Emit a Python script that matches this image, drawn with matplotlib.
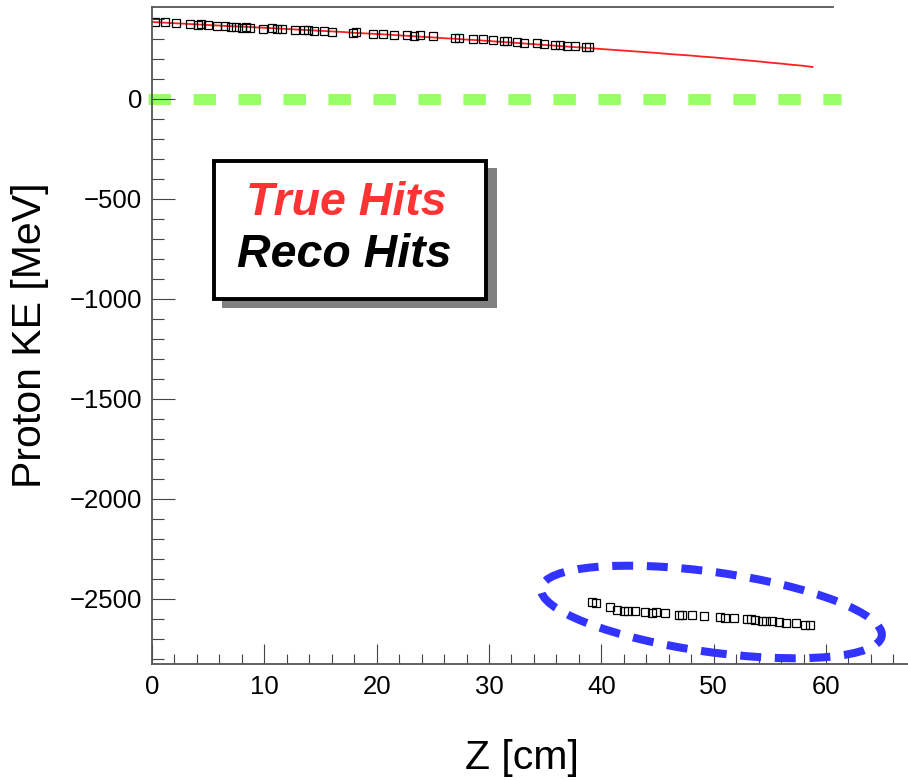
import numpy as np
import matplotlib
matplotlib.use("Agg")
import matplotlib.pyplot as plt
from matplotlib.patches import Ellipse, Rectangle
from matplotlib.transforms import IdentityTransform
from matplotlib.ticker import MultipleLocator

plt.rcParams['font.family'] = ['Liberation Sans', 'DejaVu Sans']

# --- donnees ---
z_true = [0, 1, 2, 3, 4, 5, 6, 7, 8, 9, 10, 11, 12, 13, 14, 15, 16, 17, 18, 19,
          20, 21, 22, 23, 24, 25, 26, 27, 28, 29, 30, 31, 32, 33, 34, 35, 36, 37,
          38, 39, 40, 41, 42, 43, 44, 45, 46, 47, 48, 49, 50, 51, 52, 53, 54, 55,
          56, 57, 58, 58.8]
ke_true = [385, 382, 379, 376, 373, 370, 367, 364, 362, 359, 356, 353, 350, 347,
           344, 341, 338, 335, 331, 328, 325, 322, 318, 315, 311, 308, 304, 301,
           297, 294, 290, 286, 282, 278, 274, 270, 266, 262, 258, 254, 250, 246,
           242, 238, 234, 230, 225, 221, 217, 212, 208, 203, 198, 193, 188, 182,
           177, 171, 166, 160]

z_reco = [0.3, 1.2, 2.1, 3.4, 4.1, 4.4, 5.0, 5.8, 6.5, 7.0, 7.5, 8.0, 8.4, 8.7,
          9.9, 10.7, 11.1, 11.6, 12.7, 13.5, 13.9, 14.4, 15.3, 16.0, 17.9, 18.2,
          19.7, 20.6, 21.5, 22.7, 23.3, 23.9, 25.0, 27.0, 27.3, 28.6, 29.5, 30.4,
          31.3, 31.6, 32.5, 33.1, 34.3, 34.9, 35.9, 36.3, 36.9, 37.7, 38.6, 38.9,
          39.2, 39.5, 40.8, 41.4, 42.0, 42.4, 43.0, 43.9, 44.5, 44.9, 45.7, 46.9,
          47.2, 48.1, 49.1, 50.6, 51.0, 51.8, 53.0, 53.3, 53.7, 54.3, 54.7, 55.2,
          55.8, 56.4, 57.3, 58.1, 58.6]
ke_reco = [384, 383, 378, 377, 372, 373, 369, 366, 364, 360, 362, 357, 358, 355,
           351, 353, 348, 350, 346, 343, 345, 339, 342, 337, 331, 333, 326, 324,
           322, 320, 316, 318, 313, 304, 307, 300, 298, 294, 292, 289, 287, 282,
           280, 276, 272, 270, 266, 263, 260, 258,
           -2517, -2520, -2538, -2556, -2558, -2560, -2562, -2565, -2568, -2567,
           -2570, -2578, -2582, -2580, -2586, -2592, -2596, -2597, -2602, -2600,
           -2606, -2608, -2612, -2610, -2617, -2620, -2622, -2632, -2628]

zero_x = [-0.35, 61.3]
zero_y = [0, 0]

fig = plt.figure(figsize=(9.08, 7.81), dpi=100)
ax = fig.add_axes([152/908, 1 - 664/781, 1 - 152/908, (664 - 7)/781])

ax.plot(zero_x, zero_y, color='#99ff66', lw=7.9, dashes=(2.05, 2.05),
        solid_capstyle='butt', dash_capstyle='butt', clip_on=False, zorder=1)
ax.plot(z_true, ke_true, color='#ff2020', lw=1.3, zorder=3)
ax.plot(z_reco, ke_reco, ls='none', marker='s', ms=6.2, mfc='none',
        mec='black', mew=0.9, zorder=4)

ax.set_xlim(0, 67.3)
ax.set_ylim(-2825, 460)

for s in ['top', 'right']:
    ax.spines[s].set_visible(False)
for s in ['left', 'bottom']:
    ax.spines[s].set_color('#555555')
    ax.spines[s].set_linewidth(1.3)
    ax.spines[s].set_zorder(5)
ax.axhline(460, xmin=0, xmax=(833 - 152)/756, color='#555555', lw=1.3,
           clip_on=False)

ax.xaxis.set_major_locator(MultipleLocator(10))
ax.xaxis.set_minor_locator(MultipleLocator(2))
ax.yaxis.set_major_locator(MultipleLocator(500))
ax.yaxis.set_minor_locator(MultipleLocator(100))
ax.tick_params(which='both', direction='in', color='#444444', width=0.8,
               labelsize=18.5)
ax.tick_params(axis='y', which='major', length=16.5, pad=7)
ax.tick_params(axis='y', which='minor', length=8.5)
ax.tick_params(axis='x', which='major', length=14.5, pad=8)
ax.tick_params(axis='x', which='minor', length=7.5)
ax.set_yticks([0, -500, -1000, -1500, -2000, -2500])
ax.set_yticklabels(['0', '\u2212500', '\u22121000', '\u22121500', '\u22122000', '\u22122500'])

fig.text(30/908, 1 - 335/781, 'Proton KE [MeV]', rotation=90, fontsize=29.5,
         ha='center', va='center')
fig.text(522/908, 1 - 758/781, 'Z [cm]', fontsize=29.5, ha='center', va='center')

# boite de legende avec ombre
W, H = 908, 781
fig.add_artist(Rectangle((222/W, 1 - 308/H), 275/W, 140/H, transform=fig.transFigure,
                         facecolor='#808080', edgecolor='none', zorder=6))
fig.add_artist(Rectangle((214/W, 1 - 299/H), 272/W, 138/H, transform=fig.transFigure,
                         facecolor='white', edgecolor='black', lw=2.8, zorder=7))
fig.text(346/W, 1 - 215/H, 'True Hits', color='#ff3333', fontsize=33.5,
         fontweight='bold', fontstyle='italic', ha='center', va='baseline', zorder=8)
fig.text(344/W, 1 - 267/H, 'Reco Hits', color='black', fontsize=33.5,
         fontweight='bold', fontstyle='italic', ha='center', va='baseline', zorder=8)

# ellipse bleue autour des hits decales
fig.canvas.draw()
cx, cy = ax.transData.transform((49.8, -2565))
ell = Ellipse((cx, cy), 344, 80, angle=-8, transform=IdentityTransform(),
              fill=False, edgecolor='#3333ff', lw=5.8, ls=(0, (2.6, 1.7)))
ell.set_capstyle('butt')
fig.add_artist(ell)

fig.savefig('out.png', dpi=100)
